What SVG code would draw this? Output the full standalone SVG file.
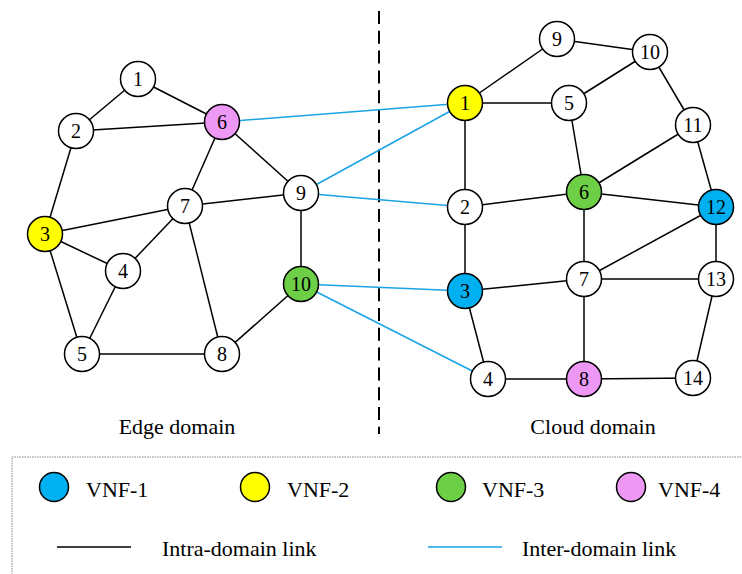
<svg xmlns="http://www.w3.org/2000/svg" width="742" height="574" viewBox="0 0 742 574" font-family="'Liberation Serif', serif">
  <style>
    .intra { stroke: #000; stroke-width: 1.5; fill: none; }
    .inter { stroke: #1aa3e6; stroke-width: 1.5; fill: none; }
    .node circle { stroke: #000; stroke-width: 1.5; fill: #fff; }
    text { font-family: 'Liberation Serif', serif; fill: #000; }
    .node text { font-size: 20px; text-anchor: middle; dominant-baseline: central; }
    .lbl { font-size: 22px; }
    .v1 circle, circle.v1 { fill: #00b0f0; }
    .v2 circle, circle.v2 { fill: #ffff00; }
    .v3 circle, circle.v3 { fill: #6dcf46; }
    .v4 circle, circle.v4 { fill: #ee98f6; }
    .key { stroke: #000; stroke-width: 1.5; }
  </style>
  <rect width="742" height="574" fill="#fff"/>

  <!-- domain separator -->
  <line x1="379" y1="11" x2="379" y2="434" stroke="#000" stroke-width="2" stroke-dasharray="13 6.8"/>

  <!-- links -->
  <g id="links">
    <!-- edge domain -->
    <line class="intra" x1="138" y1="79" x2="76" y2="131"/>
    <line class="intra" x1="138" y1="79" x2="222" y2="122"/>
    <line class="intra" x1="76" y1="131" x2="222" y2="122"/>
    <line class="intra" x1="76" y1="131" x2="45" y2="234"/>
    <line class="intra" x1="222" y1="122" x2="185" y2="206"/>
    <line class="intra" x1="222" y1="122" x2="301" y2="193"/>
    <line class="intra" x1="45" y1="234" x2="185" y2="206"/>
    <line class="intra" x1="45" y1="234" x2="123" y2="271"/>
    <line class="intra" x1="45" y1="234" x2="82" y2="354"/>
    <line class="intra" x1="185" y1="206" x2="301" y2="193"/>
    <line class="intra" x1="185" y1="206" x2="123" y2="271"/>
    <line class="intra" x1="185" y1="206" x2="222" y2="354"/>
    <line class="intra" x1="123" y1="271" x2="82" y2="354"/>
    <line class="intra" x1="82" y1="354" x2="222" y2="354"/>
    <line class="intra" x1="301" y1="193" x2="301" y2="284"/>
    <line class="intra" x1="301" y1="284" x2="222" y2="354"/>
    <!-- cloud domain -->
    <line class="intra" x1="465" y1="103" x2="557" y2="39"/>
    <line class="intra" x1="557" y1="39" x2="650" y2="52"/>
    <line class="intra" x1="650" y1="52" x2="569" y2="103"/>
    <line class="intra" x1="465" y1="103" x2="569" y2="103"/>
    <line class="intra" x1="650" y1="52" x2="693" y2="125"/>
    <line class="intra" x1="465" y1="103" x2="465" y2="207"/>
    <line class="intra" x1="569" y1="103" x2="584" y2="192"/>
    <line class="intra" x1="584" y1="192" x2="693" y2="125"/>
    <line class="intra" x1="693" y1="125" x2="716" y2="207"/>
    <line class="intra" x1="465" y1="207" x2="584" y2="192"/>
    <line class="intra" x1="584" y1="192" x2="716" y2="207"/>
    <line class="intra" x1="584" y1="192" x2="584" y2="279"/>
    <line class="intra" x1="465" y1="207" x2="465" y2="291"/>
    <line class="intra" x1="584" y1="279" x2="716" y2="207"/>
    <line class="intra" x1="716" y1="207" x2="716" y2="279"/>
    <line class="intra" x1="465" y1="291" x2="584" y2="279"/>
    <line class="intra" x1="584" y1="279" x2="716" y2="279"/>
    <line class="intra" x1="584" y1="279" x2="584" y2="379"/>
    <line class="intra" x1="465" y1="291" x2="488" y2="379"/>
    <line class="intra" x1="716" y1="279" x2="693" y2="378"/>
    <line class="intra" x1="488" y1="379" x2="584" y2="379"/>
    <line class="intra" x1="584" y1="379" x2="693" y2="378"/>
    <!-- between domains -->
    <line class="inter" x1="222" y1="122" x2="465" y2="103"/>
    <line class="inter" x1="301" y1="193" x2="465" y2="103"/>
    <line class="inter" x1="301" y1="193" x2="465" y2="207"/>
    <line class="inter" x1="301" y1="284" x2="465" y2="291"/>
    <line class="inter" x1="301" y1="284" x2="488" y2="379"/>
  </g>

  <!-- edge domain nodes -->
  <g id="e1" class="node"><circle cx="138" cy="79" r="17.5"/><text x="138" y="79">1</text></g>
  <g id="e2" class="node"><circle cx="76" cy="131" r="17.5"/><text x="76" y="131">2</text></g>
  <g id="e3" class="node v2"><circle cx="45" cy="234" r="17.5"/><text x="45" y="234">3</text></g>
  <g id="e4" class="node"><circle cx="123" cy="271" r="17.5"/><text x="123" y="271">4</text></g>
  <g id="e5" class="node"><circle cx="82" cy="354" r="17.5"/><text x="82" y="354">5</text></g>
  <g id="e6" class="node v4"><circle cx="222" cy="122" r="17.5"/><text x="222" y="122">6</text></g>
  <g id="e7" class="node"><circle cx="185" cy="206" r="17.5"/><text x="185" y="206">7</text></g>
  <g id="e8" class="node"><circle cx="222" cy="354" r="17.5"/><text x="222" y="354">8</text></g>
  <g id="e9" class="node"><circle cx="301" cy="193" r="17.5"/><text x="301" y="193">9</text></g>
  <g id="e10" class="node v3"><circle cx="301" cy="284" r="17.5"/><text x="301" y="284">10</text></g>

  <!-- cloud domain nodes -->
  <g id="c1" class="node v2"><circle cx="465" cy="103" r="17.5"/><text x="465" y="103">1</text></g>
  <g id="c2" class="node"><circle cx="465" cy="207" r="17.5"/><text x="465" y="207">2</text></g>
  <g id="c3" class="node v1"><circle cx="465" cy="291" r="17.5"/><text x="465" y="291">3</text></g>
  <g id="c4" class="node"><circle cx="488" cy="379" r="17.5"/><text x="488" y="379">4</text></g>
  <g id="c5" class="node"><circle cx="569" cy="103" r="17.5"/><text x="569" y="103">5</text></g>
  <g id="c6" class="node v3"><circle cx="584" cy="192" r="17.5"/><text x="584" y="192">6</text></g>
  <g id="c7" class="node"><circle cx="584" cy="279" r="17.5"/><text x="584" y="279">7</text></g>
  <g id="c8" class="node v4"><circle cx="584" cy="379" r="17.5"/><text x="584" y="379">8</text></g>
  <g id="c9" class="node"><circle cx="557" cy="39" r="17.5"/><text x="557" y="39">9</text></g>
  <g id="c10" class="node"><circle cx="650" cy="52" r="17.5"/><text x="650" y="52">10</text></g>
  <g id="c11" class="node"><circle cx="693" cy="125" r="17.5"/><text x="693" y="125">11</text></g>
  <g id="c12" class="node v1"><circle cx="716" cy="207" r="17.5"/><text x="716" y="207">12</text></g>
  <g id="c13" class="node"><circle cx="716" cy="279" r="17.5"/><text x="716" y="279">13</text></g>
  <g id="c14" class="node"><circle cx="693" cy="378" r="17.5"/><text x="693" y="378">14</text></g>

  <!-- domain captions -->
  <text class="lbl" x="177" y="434" text-anchor="middle">Edge domain</text>
  <text class="lbl" x="593" y="434" text-anchor="middle">Cloud domain</text>

  <!-- legend -->
  <g id="legend">
    <rect x="12" y="457" width="740" height="130" fill="none" stroke="#888" stroke-width="1" stroke-dasharray="1.5 1"/>
    <circle class="key v1" cx="54" cy="487" r="14.5"/>
    <text class="lbl" x="86" y="497">VNF-1</text>
    <circle class="key v2" cx="255" cy="487" r="14.5"/>
    <text class="lbl" x="287" y="497">VNF-2</text>
    <circle class="key v3" cx="451" cy="487" r="14.5"/>
    <text class="lbl" x="482" y="497">VNF-3</text>
    <circle class="key v4" cx="631" cy="487" r="14.5"/>
    <text class="lbl" x="658" y="497">VNF-4</text>
    <line class="intra" x1="57" y1="547" x2="131" y2="547"/>
    <text class="lbl" x="162" y="556">Intra-domain link</text>
    <line class="inter" x1="428" y1="547" x2="502" y2="547"/>
    <text class="lbl" x="522" y="556">Inter-domain link</text>
  </g>
</svg>
